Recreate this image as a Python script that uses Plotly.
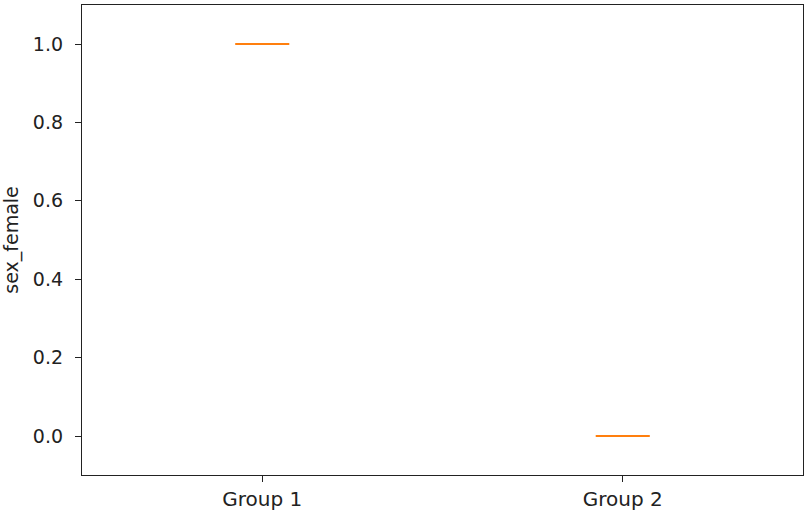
import plotly.graph_objects as go

groups = ["Group 1", "Group 2"]
group1_values = [1, 1, 1, 1, 1, 1, 1, 1]
group2_values = [0, 0, 0, 0, 0, 0, 0, 0]

fig = go.Figure()
for name, vals in zip(groups, [group1_values, group2_values]):
    fig.add_trace(go.Box(
        x=[name] * len(vals),
        y=vals,
        name=name,
        width=0.15,
        boxpoints=False,
        line=dict(color="#ff7f0e", width=2),
        fillcolor="rgba(0,0,0,0)",
        whiskerwidth=0,
        showlegend=False,
    ))

fig.update_layout(
    width=810,
    height=518,
    margin=dict(l=82, r=7, t=5, b=43),
    plot_bgcolor="white",
    paper_bgcolor="white",
    font=dict(family="DejaVu Sans", size=19, color="#222"),
    xaxis=dict(
        type="category",
        range=[-0.5, 1.5],
        tickfont=dict(size=20),
        showline=True, linecolor="#222", linewidth=1.3, mirror=True,
        ticks="outside", ticklen=6, tickcolor="#222",
        showgrid=False, zeroline=False,
    ),
    yaxis=dict(
        title=dict(text="sex_female", standoff=12, font=dict(size=19)),
        range=[-0.0995, 1.0995],
        tickvals=[0, 0.2, 0.4, 0.6, 0.8, 1.0],
        ticktext=["0.0", "0.2", "0.4", "0.6", "0.8", "1.0"],
        tickfont=dict(size=19),
        ticklabelstandoff=8,
        showline=True, linecolor="#222", linewidth=1.3, mirror=True,
        ticks="outside", ticklen=6, tickcolor="#222",
        showgrid=False, zeroline=False,
    ),
)

fig.write_html("out.html", config={"displayModeBar": False},
               post_script="document.body.style.margin='0';")
